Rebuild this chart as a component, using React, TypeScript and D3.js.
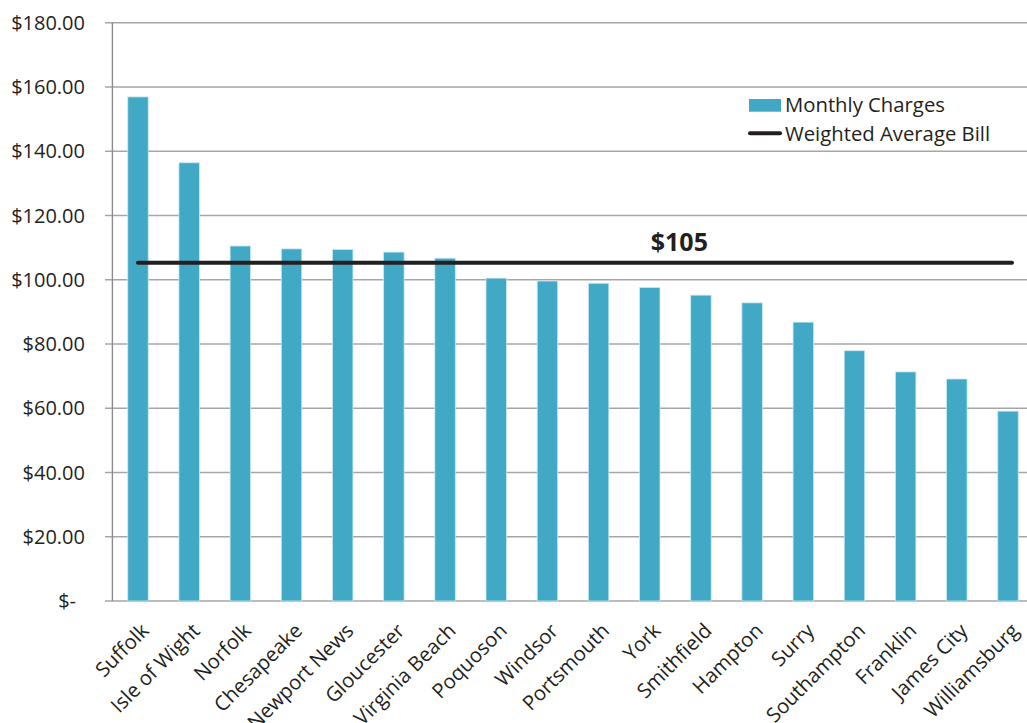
import React from 'react';
import * as d3 from 'd3';

const categories = [
  'Suffolk', 'Isle of Wight', 'Norfolk', 'Chesapeake', 'Newport News', 'Gloucester',
  'Virginia Beach', 'Poquoson', 'Windsor', 'Portsmouth', 'York', 'Smithfield',
  'Hampton', 'Surry', 'Southampton', 'Franklin', 'James City', 'Williamsburg',
];
const monthlyCharges = [
  156.9, 136.4, 110.5, 109.6, 109.4, 108.6, 106.7, 100.5, 99.6, 98.9, 97.6,
  95.2, 92.8, 86.8, 77.9, 71.3, 69.1, 59.1,
];
const weightedAverage = 105.3;
const yTicks = [0, 20, 40, 60, 80, 100, 120, 140, 160, 180];

const W = 1027;
const H = 723;
const margin = { top: 22.7, left: 112.4, right: 1033.6, bottom: 601 };
const barColor = '#41a9c6';
const gridColor = '#a6a6a6';
const textColor = '#231f20';
const font = '"Open Sans", sans-serif';

const fmt = (v: number) => (v === 0 ? '$-' : '$' + d3.format('.2f')(v));

export default function App() {
  const x = d3.scaleBand<string>().domain(categories).range([margin.left, margin.right])
    .paddingInner(0.6).paddingOuter(0.3);
  const y = d3.scaleLinear().domain([0, 180]).range([margin.bottom, margin.top]);
  const bw = x.bandwidth();

  const first = x(categories[0])! + bw / 2;
  const last = x(categories[categories.length - 1])! + bw / 2;
  // label sits between York and Smithfield
  const labelX = (x('York')! + x('Smithfield')!) / 2 + bw / 2 + 4;

  return (
    <svg width={W} height={H} style={{ position: 'absolute', left: 0, top: 0, background: '#fff' }}
      fontFamily={font}>
      {/* gridlines */}
      {yTicks.map(t => (
        <line key={t} x1={105} x2={W} y1={y(t)} y2={y(t)} stroke={gridColor} strokeWidth={1.4} />
      ))}
      <line x1={margin.left} x2={margin.left} y1={y(180)} y2={y(0)} stroke="#8c8c8c" strokeWidth={1.4} />

      {/* y labels */}
      {yTicks.map(t => (
        <text key={t} x={t === 0 ? 76 : 85} y={y(t)} dy="0.36em" textAnchor="end"
          fontSize={20} fill={textColor}>{fmt(t)}</text>
      ))}

      {/* bars */}
      {categories.map((c, i) => (
        <rect key={c} x={x(c)} y={y(monthlyCharges[i])} width={bw}
          height={y(0) - y(monthlyCharges[i])} fill={barColor} stroke="#c9e8f0" strokeWidth={0.8} />
      ))}

      {/* weighted average */}
      <line x1={first} x2={last + 4} y1={y(weightedAverage)} y2={y(weightedAverage)}
        stroke="#231f20" strokeWidth={4} strokeLinecap="round" />
      <text x={labelX} y={y(weightedAverage) - 12} textAnchor="middle" fontSize={25}
        fontWeight="bold" fill={textColor}>$105</text>

      {/* x labels */}
      {categories.map(c => {
        const cx = x(c)! + bw / 2;
        return (
          <text key={c} transform={`translate(${cx + 2},${y(0) + 21}) rotate(-45)`}
            textAnchor="end" dy="0.7em" fontSize={20.3} fill={textColor}>{c}</text>
        );
      })}

      {/* legend */}
      <rect x={749} y={99} width={32} height={12.7} fill={barColor} />
      <text x={785} y={111.5} fontSize={20.3} fill={textColor}>Monthly Charges</text>
      <line x1={750} x2={780} y1={133.3} y2={133.3} stroke="#231f20" strokeWidth={4} strokeLinecap="round" />
      <text x={785} y={140.5} fontSize={20.3} fill={textColor}>Weighted Average Bill</text>
    </svg>
  );
}
